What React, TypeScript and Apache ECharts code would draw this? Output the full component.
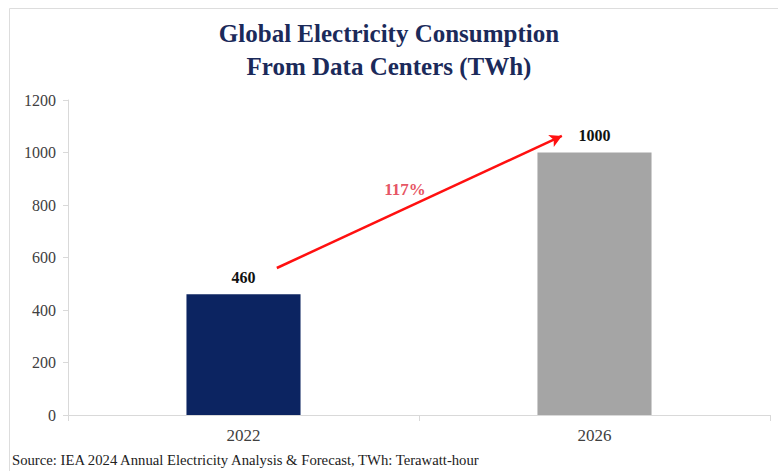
import React, { useEffect, useRef } from "react";
import * as echarts from "echarts";

const categories = ["2022", "2026"];
const consumption = [460, 1000];
const barColors = ["#0C2461", "#A5A5A5"];
const growthLabel = "117%";
const arrowStart = [0.095, 560];
const arrowEnd = [0.907, 1063];
const growthLabelPos = [0.46, 860];
const titleText = "Global Electricity Consumption\nFrom Data Centers (TWh)";
const sourceText = "Source: IEA 2024 Annual Electricity Analysis & Forecast, TWh: Terawatt-hour";

const SERIF = "'Liberation Serif', 'DejaVu Serif', serif";

export default function App() {
  const ref = useRef<HTMLDivElement>(null);
  useEffect(() => {
    document.body.style.margin = "0";
    const chart = echarts.init(ref.current!, null, { renderer: "svg" });
    chart.setOption({
      animation: false,
      backgroundColor: "#ffffff",
      title: {
        text: titleText,
        left: "center",
        top: 12,
        textStyle: {
          fontFamily: SERIF,
          fontWeight: "bold",
          fontSize: 25,
          color: "#1B2A5A",
          lineHeight: 33,
        },
      },
      grid: { left: 68, right: 8, top: 100, bottom: 56, containLabel: false },
      xAxis: [
        {
          type: "category",
          data: categories,
          axisLine: { onZero: false, lineStyle: { color: "#D9D9D9", width: 1 } },
          axisTick: { show: true, length: 6, lineStyle: { color: "#D9D9D9" } },
          axisLabel: { fontFamily: SERIF, fontSize: 17, color: "#404040", margin: 12 },
        },
        {
          type: "value",
          min: -0.5,
          max: 1.5,
          show: false,
          splitLine: { show: false },
          axisLine: { show: false },
          axisTick: { show: false },
          axisLabel: { show: false },
        },
      ],
      yAxis: {
        type: "value",
        min: 0,
        max: 1200,
        interval: 200,
        splitLine: { show: false },
        axisLine: { show: true, onZero: false, lineStyle: { color: "#D9D9D9" } },
        axisTick: { show: true, length: 5, lineStyle: { color: "#D9D9D9" } },
        axisLabel: {
          fontFamily: SERIF,
          fontSize: 16,
          color: "#404040",
          margin: 12,
          formatter: (v: number) => String(v),
        },
      },
      graphic: [
        { type: "line", shape: { x1: 9.5, y1: 8.5, x2: 778, y2: 8.5 }, style: { stroke: "#DDDDDD", lineWidth: 1 } },
        { type: "line", shape: { x1: 9.5, y1: 8.5, x2: 9.5, y2: 471 }, style: { stroke: "#DDDDDD", lineWidth: 1 } },
        {
          type: "text",
          left: 12,
          top: 452,
          style: { text: sourceText, fontFamily: SERIF, fontSize: 14.7, fill: "#222222" },
        },
      ],
      series: [
        {
          type: "bar",
          xAxisIndex: 0,
          barWidth: "32.5%",
          data: consumption.map((v, i) => ({ value: v, itemStyle: { color: barColors[i] } })),
          label: {
            show: true,
            position: "top",
            distance: 9,
            fontFamily: SERIF,
            fontWeight: "bold",
            fontSize: 16,
            color: "#111111",
          },
        },
        {
          type: "scatter",
          xAxisIndex: 1,
          symbolSize: 0,
          data: [growthLabelPos],
          label: {
            show: true,
            position: "inside",
            formatter: growthLabel,
            fontFamily: SERIF,
            fontWeight: "bold",
            fontSize: 17,
            color: "#E0283A",
          },
          markLine: {
            silent: true,
            symbol: ["none", "arrow"],
            symbolSize: [10, 12],
            label: { show: false },
            lineStyle: { color: "#FF1010", width: 2.5, type: "solid" },
            data: [[{ coord: arrowStart }, { coord: arrowEnd }]],
          },
        },
      ],
    });
    return () => chart.dispose();
  }, []);
  return <div ref={ref} style={{ position: "absolute", left: 0, top: 0, width: 778, height: 471 }} />;
}
